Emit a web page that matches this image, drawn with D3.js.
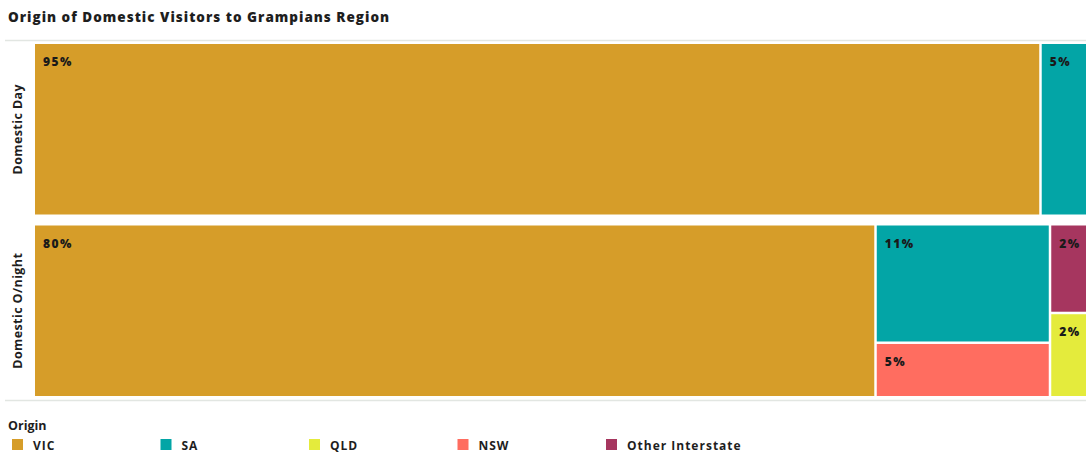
<!DOCTYPE html>
<html>
<head>
<meta charset="utf-8">
<script src="https://cdn.jsdelivr.net/npm/d3@7"></script>
<style>
  html, body { margin: 0; padding: 0; background: #fff; overflow: hidden; }
  svg { display: block; font-family: "Open Sans", "Noto Sans", sans-serif; }
</style>
</head>
<body>
<svg id="chart" width="1086" height="456"></svg>
<script>
// ---- data ----
const title = "Origin of Domestic Visitors to Grampians Region";
const legendTitle = "Origin";
const categories = ["Domestic Day", "Domestic O/night"];
const origins = ["VIC", "SA", "QLD", "NSW", "Other Interstate"];
const originColors = ["#D69D29", "#03A5A6", "#E4EB3C", "#FF6D60", "#A6365F"];
// share (%) per origin, in the order of `origins`
const dayValues = [95.2, 4.8, 0, 0, 0];
const nightValues = [79.6, 11.3, 1.9, 5.2, 2.0];
// how origins are stacked into columns inside each row
const columnGroups = [["VIC"], ["SA", "NSW"], ["Other Interstate", "QLD"]];

const seriesByCategory = [dayValues, nightValues];

// ---- hierarchy ----
const rootData = {
  name: "root",
  children: categories.map((cat, ci) => ({
    name: cat,
    children: columnGroups.map((grp, gi) => ({
      name: cat + "-g" + gi,
      children: grp.map(o => ({ name: o, value: seriesByCategory[ci][origins.indexOf(o)] }))
                   .filter(d => d.value > 0)
    })).filter(g => g.children.length > 0)
  }))
};

const svg = d3.select("#chart");
const color = d3.scaleOrdinal().domain(origins).range(originColors);
const FONT = "'Open Sans', 'Noto Sans', sans-serif";

const mLeft = 35, mTop = 44, mRight = 1090, mBottom = 396;

const root = d3.hierarchy(rootData).sum(d => d.value || 0);

const tile = (node, x0, y0, x1, y1) => {
  (node.depth & 1 ? d3.treemapDice : d3.treemapSlice)(node, x0, y0, x1, y1);
};

d3.treemap()
  .tile(tile)
  .size([mRight - mLeft, mBottom - mTop])
  .paddingInner(d => d.depth === 0 ? 11 : 2.5)
  .round(false)(root);

// title
svg.append("text")
  .attr("x", 8).attr("y", 22)
  .attr("font-family", FONT)
  .attr("font-size", 13.5).attr("font-weight", 800)
  .attr("letter-spacing", 1.0)
  .attr("fill", "#1e1e1e")
  .text(title);

// separator lines
svg.append("line").attr("x1", 5).attr("x2", 1086).attr("y1", 40.5).attr("y2", 40.5)
  .attr("stroke", "#e2e6e2").attr("stroke-width", 1.5);
svg.append("line").attr("x1", 5).attr("x2", 1086).attr("y1", 400.5).attr("y2", 400.5)
  .attr("stroke", "#e2e6e2").attr("stroke-width", 1.5);

const g = svg.append("g").attr("transform", `translate(${mLeft},${mTop})`);

// row labels
root.children.forEach(row => {
  const cy = (row.y0 + row.y1) / 2 + mTop;
  svg.append("text")
    .attr("transform", `translate(22,${cy}) rotate(-90)`)
    .attr("text-anchor", "middle")
    .attr("font-family", FONT)
    .attr("font-size", 12.5).attr("font-weight", 700)
    .attr("letter-spacing", 0.4)
    .attr("fill", "#1e1e1e")
    .text(row.data.name);
});

const leaves = root.leaves();
const cell = g.selectAll("g.cell").data(leaves).join("g").attr("class", "cell");
cell.append("rect")
  .attr("x", d => d.x0).attr("y", d => d.y0)
  .attr("width", d => d.x1 - d.x0).attr("height", d => d.y1 - d.y0)
  .attr("fill", d => color(d.data.name));
cell.append("text")
  .attr("x", d => d.x0 + 8).attr("y", d => d.y0 + 22)
  .attr("font-family", FONT)
  .attr("font-size", 12).attr("font-weight", 800)
  .attr("letter-spacing", 1.5)
  .attr("fill", "#1a1a1a")
  .text(d => d3.format(".0f")(d.value) + "%");

// legend
svg.append("text")
  .attr("x", 8).attr("y", 430)
  .attr("font-family", FONT)
  .attr("font-size", 12.5).attr("font-weight", 700)
  .attr("fill", "#1e1e1e")
  .text(legendTitle);

const lx = d3.scalePoint().domain(origins).range([12, 606]);
const li = svg.selectAll("g.leg").data(origins).join("g").attr("class", "leg")
  .attr("transform", o => `translate(${lx(o)},439)`);
li.append("rect").attr("width", 11).attr("height", 11).attr("fill", o => color(o));
li.append("text").attr("x", 21).attr("y", 11)
  .attr("font-family", FONT)
  .attr("font-size", 12).attr("font-weight", 700)
  .attr("letter-spacing", 1.0)
  .attr("fill", "#1e1e1e")
  .text(o => o);
</script>
</body>
</html>
